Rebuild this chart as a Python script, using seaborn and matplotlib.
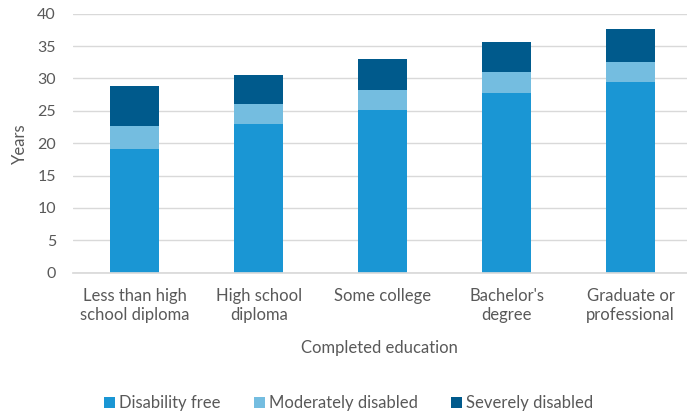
import matplotlib
matplotlib.use("Agg")
import matplotlib.pyplot as plt
import seaborn as sns
import numpy as np
from matplotlib.patches import Patch

categories = ["Less than high\nschool diploma", "High school\ndiploma", "Some college",
              "Bachelor's\ndegree", "Graduate or\nprofessional"]
disability_free = [19.1, 23.0, 25.2, 27.7, 29.4]
moderately_disabled = [3.6, 3.1, 3.0, 3.3, 3.2]
severely_disabled = [6.1, 4.5, 4.8, 4.6, 5.1]
series_names = ["Disability free", "Moderately disabled", "Severely disabled"]
colors = ["#1a96d4", "#74bde0", "#005a8c"]

sns.set_theme(style="white")
plt.rcParams['font.family'] = ['Lato', 'DejaVu Sans']
text_color = "#595959"

fig = plt.figure(figsize=(6.87, 4.13), dpi=100)
ax = fig.add_axes([72.7/687, 1 - 272.7/413, (687 - 72.7)/687, (272.7 - 13.7)/413])

bottom = np.zeros(len(categories))
for vals, col in zip([disability_free, moderately_disabled, severely_disabled], colors):
    sns.barplot(x=categories, y=vals, bottom=bottom, color=col, width=0.395,
                saturation=1, ax=ax, edgecolor="none", linewidth=0)
    bottom = bottom + np.array(vals)

ax.set_ylim(0, 40)
ax.set_xlim(-0.5, -0.5 + (687 - 72.7) / 124)
ax.set_yticks(range(0, 41, 5))
ax.yaxis.grid(True, color="#d9d9d9", linewidth=1)
ax.set_axisbelow(True)
for s in ["top", "right", "left"]:
    ax.spines[s].set_visible(False)
ax.spines["bottom"].set_color("#d9d9d9")
ax.tick_params(axis="both", length=0, colors=text_color)
ax.tick_params(axis="x", pad=11, labelsize=12)
ax.tick_params(axis="y", pad=12, labelsize=11.5)
for lab in ax.get_xticklabels():
    lab.set_linespacing(1.25)
ax.set_ylabel("Years", color=text_color, fontsize=12, labelpad=7)
ax.set_xlabel("Completed education", color=text_color, fontsize=12, labelpad=12)

handles = [Patch(facecolor=c, edgecolor="none") for c in colors]
fig.legend(handles, series_names, loc="center", bbox_to_anchor=(0.508, 1 - 403/413),
           ncol=3, frameon=False, fontsize=12, handlelength=0.65, handleheight=0.65,
           handletextpad=0.25, columnspacing=2.0, labelcolor=text_color)

fig.savefig("out.png", dpi=100)
